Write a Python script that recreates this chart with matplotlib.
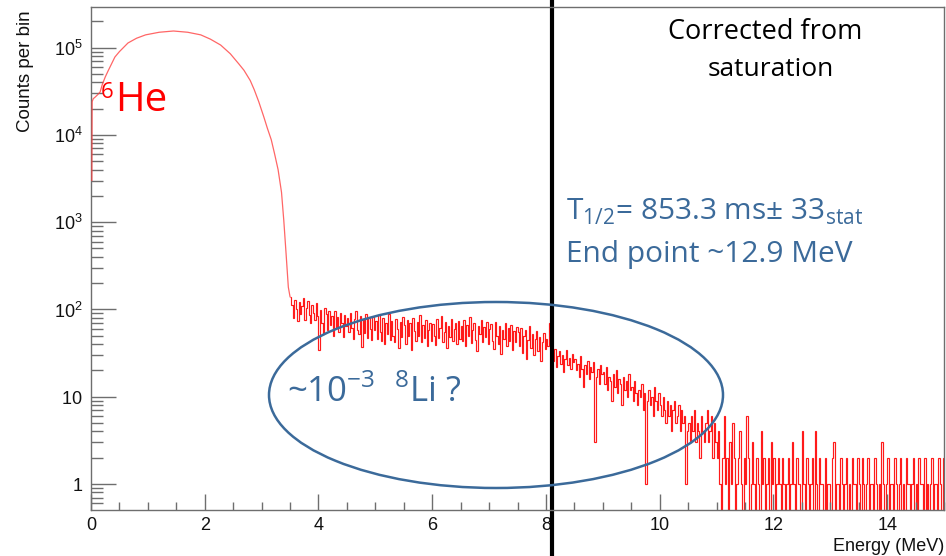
import numpy as np
import matplotlib.pyplot as plt
from matplotlib.patches import Ellipse
from matplotlib.ticker import FixedLocator, FixedFormatter, LogLocator, MultipleLocator, NullFormatter

plt.rcParams['mathtext.fontset'] = 'custom'
plt.rcParams['mathtext.rm'] = 'Open Sans'
plt.rcParams['mathtext.sf'] = 'Liberation Sans'

# 6He beta spectrum, main part (energy in MeV, counts per bin)
e_main = [0.015, 0.02, 0.04, 0.07, 0.12, 0.16, 0.2, 0.25, 0.3, 0.42, 0.5, 0.65, 0.8, 0.96,
          1.2, 1.45, 1.7, 1.93, 2.1, 2.28, 2.45, 2.6, 2.69, 2.8, 2.87, 2.95, 3.04, 3.1,
          3.17, 3.23, 3.29, 3.35, 3.39, 3.43, 3.47, 3.5]
c_main = [3000, 24000, 26000, 27000, 29000, 31000, 38000, 46000, 54000, 78000, 90000,
          113000, 128000, 140000, 150000, 155000, 150000, 140000, 125000, 107000, 85000,
          65000, 55000, 42000, 33000, 24000, 16000, 12000, 8800, 6000, 4000, 2200, 1050,
          440, 180, 140]

# tail above the 6He end point, 0.025 MeV bins starting at 3.5 MeV
bin_width = 0.025
tail_start = 3.5
c_tail = [
    138, 112, 80, 130, 100, 74, 122, 88, 110, 134, 76, 104, 126, 86, 70, 112, 92, 76, 118, 84,
    34, 98, 70, 52, 104, 88, 58, 95, 66, 85, 50, 97, 62, 82, 55, 90, 70, 48, 86, 64,
    80, 55, 90, 62, 46, 78, 95, 58, 52, 84, 37, 76, 54, 88, 47, 80, 60, 45, 82, 58,
    74, 46, 86, 55, 44, 80, 40, 70, 52, 88, 45, 74, 50, 42, 78, 60, 36, 72, 48, 82,
    66, 40, 76, 50, 70, 34, 80, 56, 44, 72, 50, 86, 42, 66, 47, 75, 38, 58, 70, 44,
    68, 50, 39, 78, 47, 62, 84, 42, 55, 72, 36, 65, 48, 78, 43, 60, 70, 40, 74, 46,
    64, 44, 75, 38, 66, 50, 82, 41, 58, 70, 45, 33, 65, 52, 76, 42, 63, 48, 72, 40,
    60, 68, 44, 35, 72, 50, 40, 64, 31, 58, 46, 70, 38, 62, 44, 66, 34, 56, 42, 63,
    55, 38, 62, 32, 50, 58, 27, 45, 64, 36, 52, 30, 46, 56, 33, 49, 26, 42, 54, 35,
    46, 38, 70, 52, 31, 26, 35, 22, 29, 33, 24, 30, 19, 27, 34, 23, 28, 21, 31, 25,
    27, 20, 24, 17, 29, 21, 13, 23, 18, 26, 16, 22, 19, 25, 3, 17, 21, 14, 23, 18,
    19, 14, 22, 12, 17, 15, 9, 18, 13, 20, 11, 16, 14, 8, 17, 12, 15, 10, 18, 12,
    13, 9, 15, 11, 8, 12, 10, 14, 7, 11, 1, 9, 12, 8, 10, 6, 13, 9, 7, 11,
    8, 6, 10, 7, 5, 9, 6, 8, 4, 7, 9, 5, 6, 8, 4, 7, 5, 6, 1, 4,
    5, 3, 6, 4, 7, 3, 5, 4, 2, 6, 4, 3, 5, 7, 3, 4, 6, 2, 5, 3,
    2, 4, 1, 0, 2, 6, 1, 2, 0, 3, 1, 5, 2, 0, 1, 2, 4, 1, 0, 2,
    1, 6, 2, 0, 1, 3, 1, 0, 2, 1, 0, 4, 1, 2, 0, 1, 2, 0, 3, 1,
    2, 0, 1, 2, 1, 0, 2, 1, 0, 1, 2, 0, 1, 3, 1, 0, 2, 1, 1, 0,
    4, 1, 0, 2, 1, 0, 1, 2, 0, 4, 1, 0, 2, 1, 1, 0, 2, 0, 1, 1,
    0, 2, 3, 0, 1, 1, 0, 2, 1, 0, 1, 2, 0, 1, 0, 2, 1, 1, 0, 2,
    1, 0, 2, 1, 0, 1, 2, 0, 1, 1, 0, 2, 1, 0, 1, 0, 3, 1, 0, 1,
    2, 0, 1, 1, 0, 2, 1, 0, 1, 2, 0, 1, 0, 2, 1, 1, 0, 1, 2, 0,
    1, 0, 2, 1, 1, 0, 2, 0, 1, 0, 1, 2, 0, 1, 1, 0, 2, 1, 0, 2,
]

y_ticks = [1, 10, 100, 1000, 10000, 100000]
y_ticklabels = [r'$\mathsf{1}$', r'$\mathsf{10}$', r'$\mathsf{10^{2}}$',
                r'$\mathsf{10^{3}}$', r'$\mathsf{10^{4}}$', r'$\mathsf{10^{5}}$']

W, H = 946, 556
blue = '#3b6a9a'
grey = '#6e6e6e'
note_font = 'Open Sans'


def px(x, y):
    return x / W, 1 - y / H


fig = plt.figure(figsize=(W / 100, H / 100), dpi=100)
ax = fig.add_axes([91 / W, 46 / H, 853 / W, 503 / H])

ax.plot(e_main, c_main, color='#ff4040', lw=0.9, alpha=0.8, zorder=3)

c_tail = np.array(c_tail, dtype=float)
edges = tail_start + bin_width * np.arange(len(c_tail) + 1)
# empty bins drop to the bottom of the log frame
ax.stairs(np.where(c_tail > 0, c_tail, 0.1), edges, color='#ff1a1a', lw=0.85,
          baseline=None)

ax.set_xlim(0, 15)
ax.set_yscale('log')
ax.set_ylim(0.504, 2.92e5)

ax.xaxis.set_major_locator(MultipleLocator(2))
ax.xaxis.set_minor_locator(MultipleLocator(0.5))
ax.yaxis.set_major_locator(FixedLocator(y_ticks))
ax.yaxis.set_major_formatter(FixedFormatter(y_ticklabels))
ax.yaxis.set_minor_locator(LogLocator(base=10, subs=np.arange(2, 10)))
ax.yaxis.set_minor_formatter(NullFormatter())

ax.tick_params(axis='both', which='both', direction='in', color=grey, width=1,
               labelsize=13, labelcolor='#111111')
ax.tick_params(axis='y', which='major', length=18, pad=6)
ax.tick_params(axis='y', which='minor', length=8.5)
ax.tick_params(axis='x', which='major', length=11.5, pad=5)
ax.tick_params(axis='x', which='minor', length=5.8)
for lab in ax.get_xticklabels():
    lab.set_fontfamily('Liberation Sans')
for sp in ax.spines.values():
    sp.set_color(grey)
    sp.set_linewidth(1)

fig.text(*px(944, 551), 'Energy (MeV)', ha='right', va='baseline', fontsize=13,
         family='Liberation Sans', color='#111111')
fig.text(*px(26, 10), 'Counts per bin', ha='center', va='top', rotation=90,
         fontsize=13.5, family='Liberation Sans', color='#111111')

# separating line and region of interest
ax.axvline(8.1, ymin=-0.092, ymax=1.02, color='black', lw=3, clip_on=False)
fig.add_artist(Ellipse(px(496, 395), 454 / W, 186 / H, transform=fig.transFigure,
                       fill=False, ec=blue, lw=1.8))

fig.text(*px(101, 98), '6', fontsize=16, color='red', family=note_font, va='baseline')
fig.text(*px(115, 111), 'He', fontsize=29, color='red', family=note_font, va='baseline')

fig.text(*px(765, 39), 'Corrected from', fontsize=19.5, color='black', family=note_font,
         ha='center', va='baseline')
fig.text(*px(771, 76), 'saturation', fontsize=19, color='black', family=note_font,
         ha='center', va='baseline')

fig.text(*px(566, 220), r'T$_{\mathrm{1/2}}$= 853.3 ms± 33$_{\mathrm{stat}}$', fontsize=21.5,
         color=blue, family=note_font, va='baseline')
fig.text(*px(566, 262), 'End point ~12.9 MeV', fontsize=21.5, color=blue, family=note_font,
         va='baseline')
fig.text(*px(287, 402), r'~10$^{\mathrm{-3}}$  $^{\mathrm{8}}$Li ?', fontsize=25,
         color=blue, family=note_font, va='baseline')

fig.savefig('out.png', dpi=100)
